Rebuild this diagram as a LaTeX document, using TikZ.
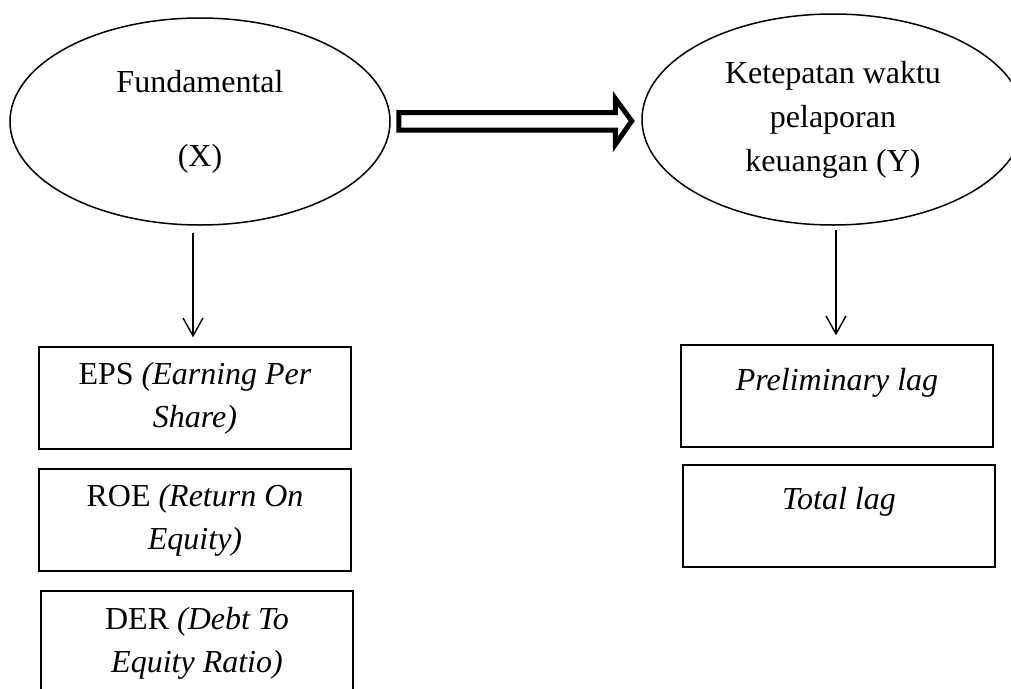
\documentclass[tikz,border=0pt]{standalone}
\usepackage{fontspec}
\setmainfont{Liberation Serif}
\usetikzlibrary{shapes.geometric,arrows.meta,calc}
\begin{document}
\begin{tikzpicture}[x=1pt,y=-1pt,
  ell/.style={draw, ellipse, line width=1.5pt, inner sep=0pt, align=center, font=\fontsize{32}{44}\selectfont},
  box/.style={draw, rectangle, line width=1.3pt, minimum width=312pt, minimum height=102pt, inner sep=0pt, align=center, font=\fontsize{32}{43}\selectfont},
  lbl/.style={font=\fontsize{32}{43}\selectfont, inner sep=0pt},
  arr/.style={line width=1.4pt, -{Straight Barb[length=18pt,width=20pt,line width=1.4pt]}},
  blockarrow/.style={draw, line width=5pt, miter limit=10, fill=white}]
\useasboundingbox (0,0) rectangle (1011,688);
\clip (0,0) rectangle (1011,688);

\node[ell, minimum width=380pt, minimum height=207pt] (fund) at (200,121.5) {Fundamental\\[30pt](X)};
\node[ell, minimum width=382pt, minimum height=211pt] (ket) at (833,119.5) {Ketepatan waktu\\pelaporan\\keuangan (Y)};

\node[box] (eps) at (195,398) {EPS \textit{(Earning Per}\\\textit{Share)}};
\node[box] (roe) at (195,520) {ROE \textit{(Return On}\\\textit{Equity)}};
\node[box, minimum height=104pt] (der) at (197,643) {DER \textit{(Debt To}\\\textit{Equity Ratio)}};

\node[box] (pre) at (837,396) {};
\node[lbl] (pretxt) at (837,383) {\textit{Preliminary lag}};
\node[box] (tot) at (839,516) {};
\node[lbl] (tottxt) at (839,502) {\textit{Total lag}};

\draw[arr] ([shift={(-7pt,-7pt)}]fund.south) -- ([shift={(-2pt,9pt)}]eps.north);
\draw[arr] ([shift={(3pt,-4pt)}]ket.south) -- ([shift={(-1pt,9pt)}]pre.north);

\draw[blockarrow] ($(fund.east)+(8,-9)$) -- ($(ket.west)+(-26,-7)$) -- ($(ket.west)+(-26,-21)$)
  -- ($(ket.west)+(-9.5,1.5)$) -- ($(ket.west)+(-26,25)$) -- ($(ket.west)+(-26,10.5)$)
  -- ($(fund.east)+(8,8.5)$) -- cycle;
\end{tikzpicture}
\end{document}
